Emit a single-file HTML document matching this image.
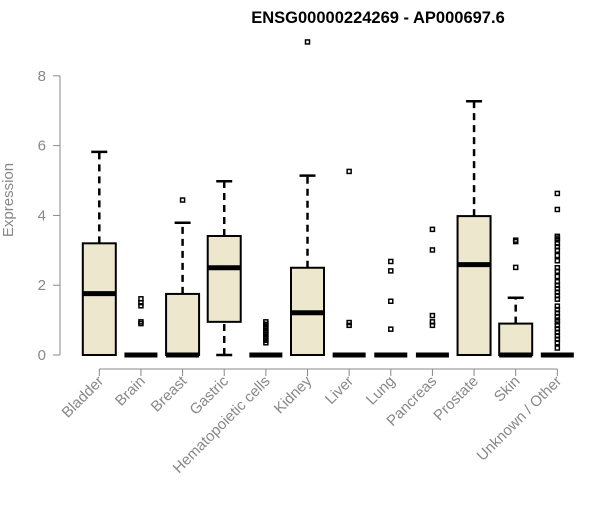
<!DOCTYPE html>
<html><head><meta charset="utf-8"><style>
body{margin:0;background:#fff;}
svg text{font-family:"Liberation Sans",Arial,sans-serif;}
</style></head><body>
<svg id="chart" width="600" height="500" xmlns="http://www.w3.org/2000/svg">
<rect width="600" height="500" fill="#fff"/>
<text x="378" y="23" text-anchor="middle" font-size="16.5" font-weight="bold">ENSG00000224269 - AP000697.6</text>
<text transform="translate(13,200) rotate(-90)" text-anchor="middle" font-size="15" fill="#888">Expression</text>
<g id="axes"></g>
<g id="boxes"></g>
</svg>
<script>
const categories=["Bladder","Brain","Breast","Gastric","Hematopoietic cells","Kidney","Liver","Lung","Pancreas","Prostate","Skin","Unknown / Other"];
const lowWhisker=[0,0,0,0,0,0,0,0,0,0,0,0];
const q1=[0,0,0,0.95,0,0,0,0,0,0,0,0];
const medians=[1.76,0,0,2.5,0,1.21,0,0,0,2.59,0,0];
const q3=[3.2,0,1.75,3.41,0,2.5,0,0,0,3.98,0.9,0];
const highWhisker=[5.82,0,3.79,4.98,0,5.14,0,0,0,7.27,1.64,0];
const outliers=[[],[1.61,1.5,1.41,0.95,0.9],[4.44],[],[0.95,0.88,0.8,0.72,0.65,0.58,0.5,0.42,0.35],[8.97],[5.26,0.93,0.85],[2.68,2.41,1.54,0.74],[3.6,3.01,1.13,0.95,0.85],[],[3.29,3.25,2.51],[4.63,4.17,3.4,3.35,3.3,3.2,3.1,3.0,2.85,2.7,2.5,2.4,2.25,2.1,2.0,1.9,1.8,1.7,1.6,1.4,1.3,1.2,1.1,1.0,0.95,0.85,0.75,0.65,0.55,0.45,0.35,0.2]];
const yTicks=[0,2,4,6,8];
const NS="http://www.w3.org/2000/svg";
const yScale=v=>355-v*34.9;
const xScale=i=>99.3+i*41.64;
const axes=document.getElementById('axes'), boxes=document.getElementById('boxes');
function mk(tag,attrs,parent){const e=document.createElementNS(NS,tag);for(const k in attrs)e.setAttribute(k,attrs[k]);parent.appendChild(e);return e;}
let yl=mk('line',{x1:60,x2:60,y1:yScale(0),y2:yScale(8),stroke:'#888'},axes);


yTicks.forEach(t=>{
 const tk=mk('line',{x1:53,x2:60,y1:yScale(t),y2:yScale(t),stroke:'#888'},axes);
 
 
 const tx=mk('text',{x:46,y:yScale(t)+5,'text-anchor':'end','font-size':15,fill:'#888'},axes);
 tx.textContent=t;
 
 
});
let xl=mk('line',{x1:xScale(0),x2:xScale(11),y1:369,y2:369,stroke:'#888'},axes);


categories.forEach((c,i)=>{
 const x=xScale(i);
 const tk=mk('line',{x1:x,x2:x,y1:369,y2:376,stroke:'#888'},axes);
 
 
 const tx=mk('text',{transform:`translate(${x+5},${382}) rotate(-45)`,'text-anchor':'end','font-size':15,fill:'#888'},axes);
 tx.textContent=c;
 
 
 const g=mk('g',{},boxes);
 
 
 const hw=16.5;
 if(highWhisker[i]>q3[i]){
  mk('line',{x1:x,x2:x,y1:yScale(q3[i]),y2:yScale(highWhisker[i]),stroke:'#000','stroke-width':2.5,'stroke-dasharray':'7,5'},g);
  mk('line',{x1:x-8,x2:x+8,y1:yScale(highWhisker[i]),y2:yScale(highWhisker[i]),stroke:'#000','stroke-width':2.5},g);
 }
 if(q1[i]>lowWhisker[i]){
  mk('line',{x1:x,x2:x,y1:yScale(lowWhisker[i]),y2:yScale(q1[i]),stroke:'#000','stroke-width':2.5,'stroke-dasharray':'7,5'},g);
  mk('line',{x1:x-8,x2:x+8,y1:yScale(lowWhisker[i]),y2:yScale(lowWhisker[i]),stroke:'#000','stroke-width':2.5},g);
 }
 if(q3[i]>q1[i]) mk('rect',{x:x-hw,y:yScale(q3[i]),width:hw*2,height:yScale(q1[i])-yScale(q3[i]),fill:'#ede7cd',stroke:'#000','stroke-width':2},g);
 mk('line',{x1:x-hw,x2:x+hw,y1:yScale(medians[i]),y2:yScale(medians[i]),stroke:'#000','stroke-width':5},g);
 outliers[i].forEach(v=>{
  const p=mk('rect',{x:x-2,y:yScale(v)-2,width:4,height:4,fill:'none',stroke:'#000','stroke-width':1.5},g);
  
  
 });
});
</script>
</body></html>
